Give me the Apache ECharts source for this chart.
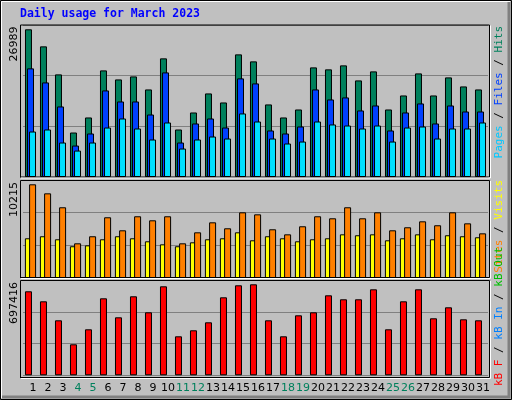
<!DOCTYPE html>
<html>
<head>
<meta charset="utf-8">
<script src="https://cdn.jsdelivr.net/npm/echarts@6/dist/echarts.min.js"></script>
<style>
	html,body{margin:0;padding:0;background:#c0c0c0;}
	#wrap{width:512px;height:400px;}
</style>
</head>
<body>
<div id="wrap"></div>
<script>
var days = [];
for (var d = 1; d <= 31; d++) days.push(String(d));
var weekendDays = ["4","5","11","12","18","19","25","26"];

var hits = [26989,23870,18750,8130,10880,19480,17830,18380,16000,21680,8680,11790,15270,13620,22410,21130,
	13260,10880,12340,20030,19670,20400,17650,19300,12340,14900,18930,14900,18200,16550,16000];
var files = [19850,17280,12890,5750,7950,15820,13800,13800,11420,19110,6300,9780,10690,9040,18020,17100,
	8500,7950,9230,16000,14170,14540,12160,13070,8500,11790,13440,9780,13070,11970,11970];
var pages = [8310,8680,6300,4830,6300,9040,10690,8860,6850,9960,5200,6850,7400,7030,11610,10140,
	7030,6120,6480,10140,9600,9410,8860,9410,6480,9040,9230,7030,8860,8860,9960];
var visits = [4330,4550,4220,3460,3560,4220,4550,4330,4000,3670,3460,3890,4220,4330,4980,4110,
	4550,4330,4000,4220,4330,4760,4660,4760,4110,4330,4760,4220,4660,4550,4440];
var sites = [10215,9230,7710,3780,4550,6620,5200,6730,6290,6730,3780,4980,6070,5420,7160,6940,
	5310,4760,5640,6730,6510,7710,6510,7160,5200,5530,6180,5750,7160,5960,4870];
var kbytes = [643800,567100,421500,237600,352500,590100,444500,605500,482800,682100,298900,344900,406200,597800,689800,697416,
	421500,298900,459800,482800,613100,582500,582500,659100,352500,567100,659100,436900,521100,429200,421500];

var maxLabels = ["26989","10215","697416"];
var axisMax = [27775,10684,730370];

var gridGray = "#808080";
var bg = "#c0c0c0";
var panels = [
	{top:25, height:152, boxTop:24.5, boxH:153},
	{top:180, height:98, boxTop:180, boxH:98},
	{top:280, height:95.3, boxTop:280, boxH:98}
];

var myChart = echarts.init(document.getElementById("wrap"));

function barSeries(name, data, axis, color, gap){
	return {
		name: name,
		type: 'bar',
		xAxisIndex: axis,
		yAxisIndex: axis,
		data: data,
		barWidth: 7,
		barGap: gap,
		silent: true,
		itemStyle: {color: color, borderColor: "#000", borderWidth: 1}
	};
}

var grids = [], xAxes = [], yAxes = [];
for (var i = 0; i < 3; i++) {
	grids.push({left: 23, width: 465, top: panels[i].top, height: panels[i].height});
	xAxes.push({
		type: 'category',
		gridIndex: i,
		data: days,
		axisLine: {show: false},
		axisTick: {show: false},
		axisLabel: i < 2 ? {show: false} : {
			show: true,
			interval: 0,
			margin: 7,
			padding: [0,0,0,5],
			fontFamily: "DejaVu Sans",
			fontSize: 11,
			color: function(v){ return weekendDays.indexOf(v) >= 0 ? "#00805c" : "#000"; }
		}
	});
	yAxes.push({
		type: 'value',
		gridIndex: i,
		min: 0,
		max: axisMax[i],
		interval: axisMax[i] / 3,
		axisLabel: {show: false},
		axisLine: {show: false},
		axisTick: {show: false},
		splitLine: {lineStyle: {color: gridGray, width: 1}}
	});
}

var graphics = [];
// outer frame
graphics.push({type:'rect', shape:{x:0.5,y:0.5,width:511,height:399}, style:{fill:null, stroke:"#000", lineWidth:1}, z:1});
graphics.push({type:'polyline', shape:{points:[[1.5,398],[1.5,1.5],[510,1.5]]}, style:{stroke:"#fff", lineWidth:1, fill:null}, z:1});
graphics.push({type:'polyline', shape:{points:[[2,397],[509,397],[509,2]]}, style:{stroke:"#808080", lineWidth:3, fill:null}, z:1});
// panel boxes
for (var j = 0; j < 3; j++) {
	var p = panels[j];
	graphics.push({type:'polyline', shape:{points:[[20.5,p.boxTop+p.boxH],[20.5,p.boxTop+0.5],[489.5,p.boxTop+0.5]]},
		style:{stroke:"#000", lineWidth:1, fill:null}, z:10});
	graphics.push({type:'polyline', shape:{points:[[20.5,p.boxTop+p.boxH-0.5],[489.5,p.boxTop+p.boxH-0.5],[489.5,p.boxTop+0.5]]},
		style:{stroke:"#000", lineWidth:1, fill:null}, z:10});
	graphics.push({type:'polyline', shape:{points:[[21,p.boxTop+p.boxH+0.5],[490.5,p.boxTop+p.boxH+0.5],[490.5,p.boxTop+1]]},
		style:{stroke:"#fff", lineWidth:1, fill:null}, z:10});
	graphics.push({type:'text', x:9, y:p.boxTop+2, rotation:Math.PI/2,
		style:{text:maxLabels[j], fill:"#000", font:"11px 'DejaVu Sans'", align:'right', verticalAlign:'top'}, z:10});
}
// title
graphics.push({type:'text', x:20, y:8, style:{text:"Daily usage for March 2023", fill:"#0000ff",
	font:"bold 11.5px 'DejaVu Sans Mono'", align:'left', verticalAlign:'top'}, z:10});

function sideLabel(y, parts, align){
	var rich = {};
	var txt = parts.map(function(pt, k){ rich['s'+k] = {fill: pt[1]}; return '{s'+k+'|'+pt[0]+'}'; }).join('');
	graphics.push({type:'text', x:494, y:y, rotation:Math.PI/2,
		style:{text:txt, rich:rich, font:"11px 'DejaVu Sans Mono'", align:align, verticalAlign:'top'}, z:10});
}
sideLabel(26, [["Pages","#00c8ff"],[" / ","#000"],["Files","#0040ff"],[" / ","#000"],["Hits","#00805c"]], 'right');
sideLabel(180, [["Sites","#ff8000"],[" / ","#000"],["Visits","#ffff00"]], 'right');
sideLabel(386, [["kB F","#ff0000"],[" / ","#000"],["kB In","#0080ff"],[" / ","#000"],["kB Out","#00c000"]], 'left');

var option = {
	animation: false,
	backgroundColor: bg,
	grid: grids,
	xAxis: xAxes,
	yAxis: yAxes,
	graphic: graphics,
	series: [
		barSeries('Hits', hits, 0, "#00805c", '-71%'),
		barSeries('Files', files, 0, "#0040ff", '-71%'),
		barSeries('Pages', pages, 0, "#00e0ff", '-71%'),
		barSeries('Visits', visits, 1, "#ffff00", '-40%'),
		barSeries('Sites', sites, 1, "#ff8000", '-40%'),
		barSeries('kB F', kbytes, 2, "#ff0000", '-71%'),
		barSeries('kB In', [], 2, "#0080ff", '-71%'),
		barSeries('kB Out', [], 2, "#00c000", '-71%')
	]
};
myChart.setOption(option);
</script>
</body>
</html>
